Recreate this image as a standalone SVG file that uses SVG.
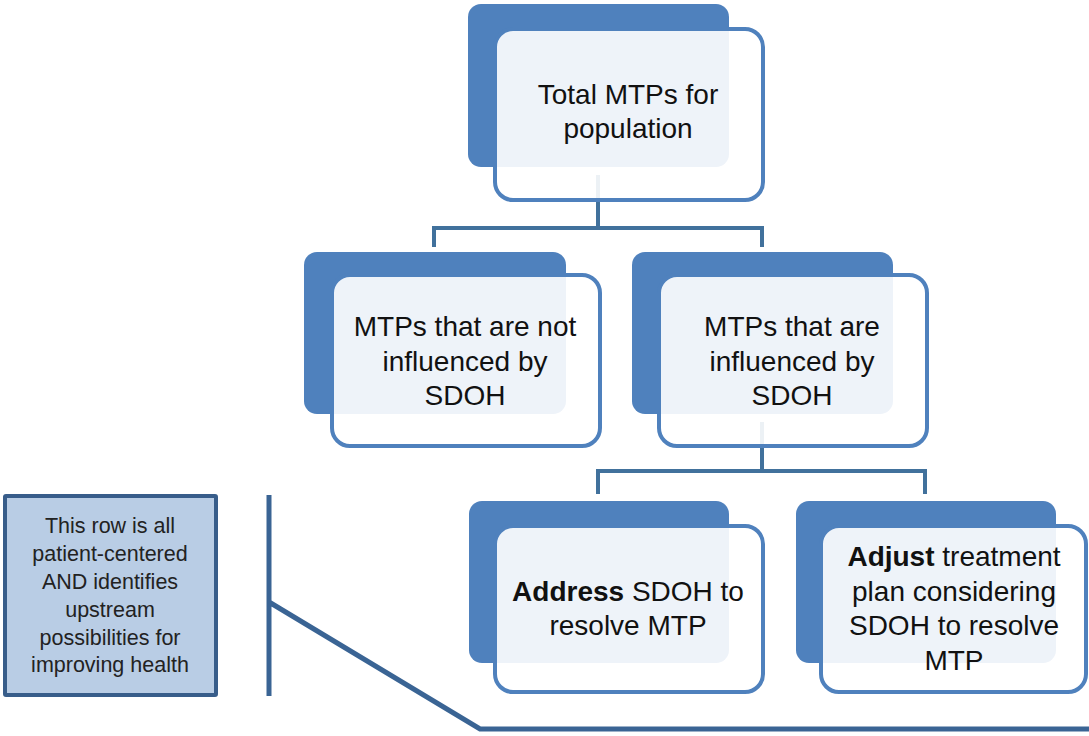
<svg xmlns="http://www.w3.org/2000/svg" width="1089" height="736" viewBox="0 0 1089 736">
<style>
.back{fill:#4f81bd}
.front{fill:#ffffff;fill-opacity:0.9;stroke:#4f81bd;stroke-width:4}
.conn{fill:none;stroke:#41719c;stroke-width:4}
.lbl{font-family:"Liberation Sans",Arial,sans-serif;font-size:28px;fill:#111;text-anchor:middle}
.note{font-family:"Liberation Sans",Arial,sans-serif;font-size:21.5px;fill:#222;text-anchor:middle}
.b{font-weight:bold}
</style>
<rect width="1089" height="736" fill="#ffffff"/>
<g id="connectors">
<path class="conn" d="M598,175 V228 H434 V247 M598,228 H762 V247"/>
<path class="conn" d="M762,422 V471 H598 V494 M762,471 H925 V494"/>
<path d="M269,495 V696 M269,602 L480,729 H1089" fill="none" stroke="#3a6494" stroke-width="5"/>
</g>
<g id="node-total">
<rect class="back" x="468" y="4" width="261" height="163" rx="13"/>
<rect class="front" x="495" y="29" width="268" height="171" rx="18"/>
<text class="lbl" x="628" y="104">Total MTPs for</text>
<text class="lbl" x="628" y="138">population</text>
</g>
<g id="node-not-influenced">
<rect class="back" x="304" y="252" width="262" height="162" rx="13"/>
<rect class="front" x="332" y="275" width="268" height="171" rx="18"/>
<text class="lbl" x="465" y="336">MTPs that are not</text>
<text class="lbl" x="465" y="371">influenced by</text>
<text class="lbl" x="465" y="405">SDOH</text>
</g>
<g id="node-influenced">
<rect class="back" x="632" y="252" width="261" height="162" rx="13"/>
<rect class="front" x="659" y="275" width="268" height="171" rx="18"/>
<text class="lbl" x="792" y="336">MTPs that are</text>
<text class="lbl" x="792" y="371">influenced by</text>
<text class="lbl" x="792" y="405">SDOH</text>
</g>
<g id="node-address">
<rect class="back" x="469" y="501" width="260" height="162" rx="13"/>
<rect class="front" x="495" y="526" width="268" height="166" rx="18"/>
<text class="lbl" x="628" y="601"><tspan class="b">Address</tspan> SDOH to</text>
<text class="lbl" x="628" y="635">resolve MTP</text>
</g>
<g id="node-adjust">
<rect class="back" x="796" y="501" width="260" height="162" rx="13"/>
<rect class="front" x="821" y="526" width="265" height="166" rx="18"/>
<text class="lbl" x="954" y="566"><tspan class="b">Adjust</tspan> treatment</text>
<text class="lbl" x="954" y="601">plan considering</text>
<text class="lbl" x="954" y="635">SDOH to resolve</text>
<text class="lbl" x="954" y="670">MTP</text>
</g>
<g id="note">
<rect x="5" y="496" width="211" height="199" fill="#b9cde5" stroke="#385d8a" stroke-width="4" rx="1"/>
<text class="note" x="110" y="533">This row is all</text>
<text class="note" x="110" y="561">patient-centered</text>
<text class="note" x="110" y="589">AND identifies</text>
<text class="note" x="110" y="617">upstream</text>
<text class="note" x="110" y="645">possibilities for</text>
<text class="note" x="110" y="672">improving health</text>
</g>
</svg>
